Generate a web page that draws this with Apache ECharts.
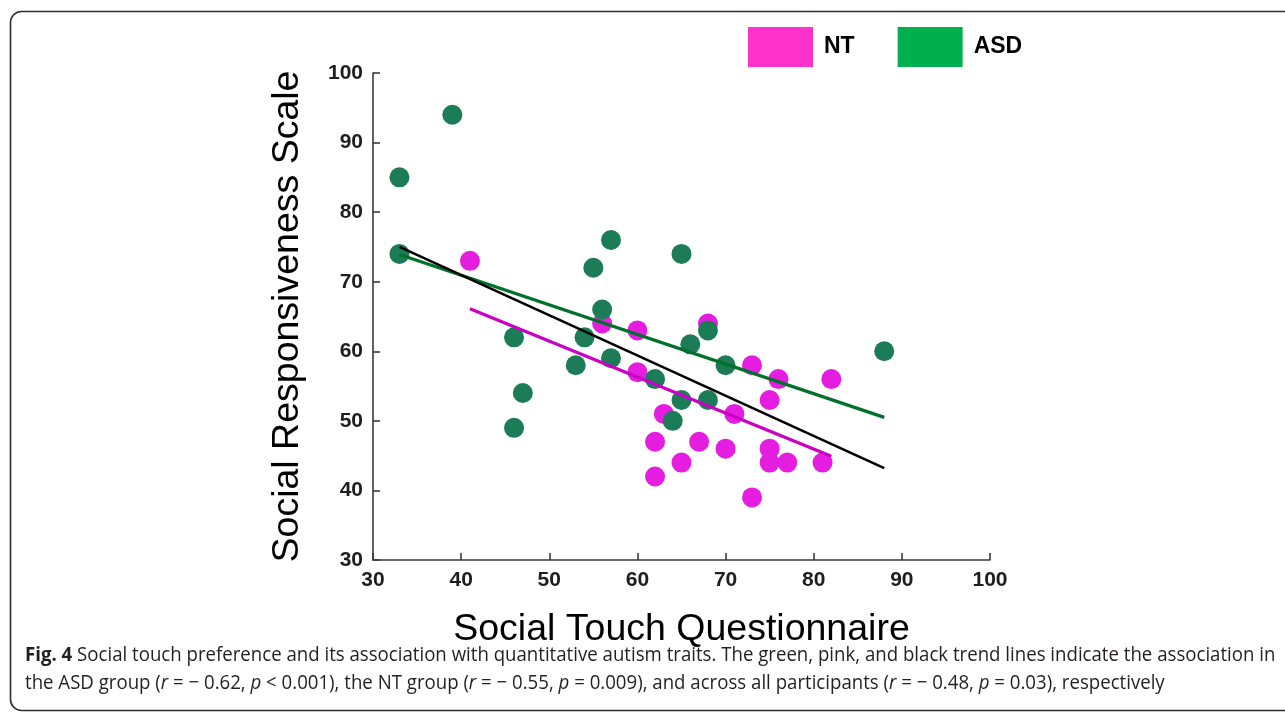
<!DOCTYPE html>
<html>
<head>
<meta charset="utf-8">
<script src="https://cdn.jsdelivr.net/npm/echarts@6/dist/echarts.min.js"></script>
<style>
  html, body { margin: 0; padding: 0; background: #fff; }
  #chart { width: 1285px; height: 714px; }
</style>
</head>
<body>
<div id="chart"></div>
<script>
// Fig. 4 — Social Touch Questionnaire vs Social Responsiveness Scale (NT / ASD)

const X_TICKS = [30, 100, 10];   // min, max, step
const Y_TICKS = [30, 100, 10];

const ntPoints = [
  [41, 73], [56, 64], [60, 63], [60, 57], [62, 47], [62, 42], [63, 51],
  [65, 44], [67, 47], [68, 64], [70, 46], [71, 51], [73, 58], [73, 39],
  [75, 53], [75, 46], [75, 44], [76, 56], [77, 44], [81, 44], [82, 56],
];
const asdPoints = [
  [39, 94], [33, 85], [33, 74], [46, 62], [47, 54], [46, 49], [53, 58],
  [54, 62], [55, 72], [56, 66], [57, 76], [57, 59], [62, 56], [64, 50],
  [65, 53], [65, 74], [66, 61], [68, 63], [68, 53], [70, 58], [88, 60],
];
// trend lines: end points
const asdFit = [[33, 73.9], [88, 50.5]];
const ntFit  = [[41, 66.1], [82, 44.9]];
const allFit = [[33, 75.0], [88, 43.2]];

const CAPTION_1 = "{b|Fig. 4} Social touch preference and its association with quantitative autism traits. The green, pink, and black trend lines indicate the association in";
const CAPTION_2 = "the ASD group ({i|r} = − 0.62, {i|p} < 0.001), the NT group ({i|r} = − 0.55, {i|p} = 0.009), and across all participants ({i|r} = − 0.48, {i|p} = 0.03), respectively";

const AX_FONT = "'Liberation Sans', Arial, sans-serif";
const CAP_FONT = "'Open Sans', 'Noto Sans', sans-serif";
const PT_PINK = "#e41de0", PT_GREEN = "#1b7c57";
const LN_PINK = "#cc00c4", LN_GREEN = "#00702b";

// squeeze the caption so line 1 spans the same width as in the figure
function captionScale() {
  const ctx = document.createElement("canvas").getContext("2d");
  ctx.font = "20px " + CAP_FONT;
  const plain = CAPTION_1.replace(/\{\w\|([^}]*)\}/g, "$1");
  const w = ctx.measureText(plain).width;
  return w > 0 ? 1248 / w : 1;
}

const chart = echarts.init(document.getElementById("chart"), null, { renderer: "canvas" });
const sx = captionScale();
const capRich = {
  b: { fontWeight: "bold", fontSize: 20, fontFamily: CAP_FONT, fill: "#231f20" },
  i: { fontStyle: "italic", fontSize: 20, fontFamily: CAP_FONT, fill: "#231f20" },
};

const axisCommon = {
  type: "value",
  axisLine: { show: true, lineStyle: { color: "#3a3a3a", width: 1.6 } },
  axisTick: { show: true, inside: true, length: 7, lineStyle: { color: "#3a3a3a", width: 1.6 } },
  splitLine: { show: false },
  axisLabel: { color: "#1e1e1e", fontWeight: "bold", fontSize: 21, fontFamily: AX_FONT, margin: 10 },
  nameLocation: "middle",
  nameTextStyle: { color: "#000", fontSize: 37.5, fontFamily: AX_FONT },
};

chart.setOption({
  backgroundColor: "#fff",
  animation: false,
  grid: { left: 373, right: 295, top: 73, bottom: 154 },
  legend: {
    data: [
      { name: "NT",  icon: "rect", itemStyle: { color: "#ff33cc" } },
      { name: "ASD", icon: "rect", itemStyle: { color: "#00b04f" } },
    ],
    left: 748, top: 27, padding: 0, itemWidth: 65, itemHeight: 40, itemGap: 43,
    textStyle: { color: "#000", fontWeight: "bold", fontSize: 23, fontFamily: AX_FONT, padding: [5, 0, 0, 6] },
    selectedMode: false,
  },
  xAxis: {
    ...axisCommon, min: X_TICKS[0], max: X_TICKS[1], interval: X_TICKS[2],
    name: "Social Touch Questionnaire", nameGap: 51,
  },
  yAxis: {
    ...axisCommon, min: Y_TICKS[0], max: Y_TICKS[1], interval: Y_TICKS[2],
    name: "Social Responsiveness Scale", nameGap: 66,
  },
  series: [
    { name: "NT", type: "scatter", data: ntPoints, symbolSize: 20, z: 2,
      itemStyle: { color: PT_PINK, opacity: 1 } },
    { name: "ASD", type: "scatter", data: asdPoints, symbolSize: 20, z: 3,
      itemStyle: { color: PT_GREEN, opacity: 1 } },
    { name: "ASD fit", type: "line", data: asdFit, symbol: "none", z: 4,
      lineStyle: { color: LN_GREEN, width: 3.2 } },
    { name: "NT fit", type: "line", data: ntFit, symbol: "none", z: 4,
      lineStyle: { color: LN_PINK, width: 3.2 } },
    { name: "All fit", type: "line", data: allFit, symbol: "none", z: 5,
      lineStyle: { color: "#000", width: 2.6 } },
  ],
  graphic: [
    { type: "rect", left: 8, top: 9, silent: true, z: 0,
      shape: { x: 0, y: 0, width: 1300, height: 699, r: 11 },
      style: { fill: "none", stroke: "#2e2e2e", lineWidth: 1.6 } },
    { type: "text", x: 25, y: 655, scaleX: sx, silent: true,
      style: { text: CAPTION_1, rich: capRich, fontSize: 20, fontFamily: CAP_FONT,
               fill: "#231f20", verticalAlign: "middle", align: "left" } },
    { type: "text", x: 25, y: 683, scaleX: sx, silent: true,
      style: { text: CAPTION_2, rich: capRich, fontSize: 20, fontFamily: CAP_FONT,
               fill: "#231f20", verticalAlign: "middle", align: "left" } },
  ],
});
</script>
</body>
</html>
